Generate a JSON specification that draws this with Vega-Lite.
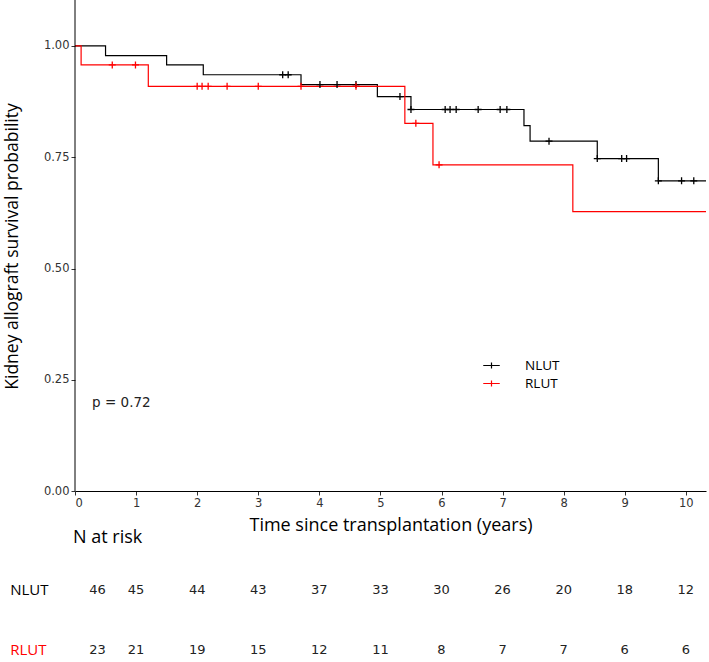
{
  "$schema": "https://vega.github.io/schema/vega-lite/v6.json",
  "width": 631,
  "height": 662,
  "autosize": {"type": "none"},
  "padding": {"left": 75, "top": 0, "right": 3, "bottom": 0},
  "background": "white",
  "config": {"view": {"stroke": null}, "font": "Open Sans"},
  "datasets": {
    "curve": [
      {"group": "NLUT", "time": 0, "surv": 1.0},
      {"group": "NLUT", "time": 0.5, "surv": 0.978},
      {"group": "NLUT", "time": 1.5, "surv": 0.957},
      {"group": "NLUT", "time": 2.1, "surv": 0.935},
      {"group": "NLUT", "time": 3.7, "surv": 0.913},
      {"group": "NLUT", "time": 4.95, "surv": 0.886},
      {"group": "NLUT", "time": 5.5, "surv": 0.857},
      {"group": "NLUT", "time": 7.35, "surv": 0.821},
      {"group": "NLUT", "time": 7.45, "surv": 0.786},
      {"group": "NLUT", "time": 8.55, "surv": 0.747},
      {"group": "NLUT", "time": 9.55, "surv": 0.697},
      {"group": "NLUT", "time": 10.33, "surv": 0.697},
      {"group": "RLUT", "time": 0, "surv": 1.0},
      {"group": "RLUT", "time": 0.1, "surv": 0.957},
      {"group": "RLUT", "time": 1.2, "surv": 0.909},
      {"group": "RLUT", "time": 5.4, "surv": 0.826},
      {"group": "RLUT", "time": 5.86, "surv": 0.733},
      {"group": "RLUT", "time": 8.15, "surv": 0.628},
      {"group": "RLUT", "time": 10.33, "surv": 0.628}
    ],
    "censor": [
      {"group": "NLUT", "time": 3.4, "surv": 0.935},
      {"group": "NLUT", "time": 3.49, "surv": 0.935},
      {"group": "NLUT", "time": 4.01, "surv": 0.913},
      {"group": "NLUT", "time": 4.29, "surv": 0.913},
      {"group": "NLUT", "time": 4.6, "surv": 0.913},
      {"group": "NLUT", "time": 5.32, "surv": 0.886},
      {"group": "NLUT", "time": 5.5, "surv": 0.857},
      {"group": "NLUT", "time": 6.06, "surv": 0.857},
      {"group": "NLUT", "time": 6.14, "surv": 0.857},
      {"group": "NLUT", "time": 6.24, "surv": 0.857},
      {"group": "NLUT", "time": 6.6, "surv": 0.857},
      {"group": "NLUT", "time": 6.96, "surv": 0.857},
      {"group": "NLUT", "time": 7.07, "surv": 0.857},
      {"group": "NLUT", "time": 7.76, "surv": 0.786},
      {"group": "NLUT", "time": 8.55, "surv": 0.747},
      {"group": "NLUT", "time": 8.95, "surv": 0.747},
      {"group": "NLUT", "time": 9.03, "surv": 0.747},
      {"group": "NLUT", "time": 9.55, "surv": 0.697},
      {"group": "NLUT", "time": 9.93, "surv": 0.697},
      {"group": "NLUT", "time": 10.13, "surv": 0.697},
      {"group": "RLUT", "time": 0.61, "surv": 0.957},
      {"group": "RLUT", "time": 0.99, "surv": 0.957},
      {"group": "RLUT", "time": 2.0, "surv": 0.909},
      {"group": "RLUT", "time": 2.08, "surv": 0.909},
      {"group": "RLUT", "time": 2.18, "surv": 0.909},
      {"group": "RLUT", "time": 2.49, "surv": 0.909},
      {"group": "RLUT", "time": 3.0, "surv": 0.909},
      {"group": "RLUT", "time": 3.7, "surv": 0.909},
      {"group": "RLUT", "time": 4.6, "surv": 0.909},
      {"group": "RLUT", "time": 5.58, "surv": 0.826},
      {"group": "RLUT", "time": 5.96, "surv": 0.733}
    ],
    "risk": [
      {"group": "NLUT", "time": 0.37, "n": 46},
      {"group": "NLUT", "time": 1, "n": 45},
      {"group": "NLUT", "time": 2, "n": 44},
      {"group": "NLUT", "time": 3, "n": 43},
      {"group": "NLUT", "time": 4, "n": 37},
      {"group": "NLUT", "time": 5, "n": 33},
      {"group": "NLUT", "time": 6, "n": 30},
      {"group": "NLUT", "time": 7, "n": 26},
      {"group": "NLUT", "time": 8, "n": 20},
      {"group": "NLUT", "time": 9, "n": 18},
      {"group": "NLUT", "time": 10, "n": 12},
      {"group": "RLUT", "time": 0.37, "n": 23},
      {"group": "RLUT", "time": 1, "n": 21},
      {"group": "RLUT", "time": 2, "n": 19},
      {"group": "RLUT", "time": 3, "n": 15},
      {"group": "RLUT", "time": 4, "n": 12},
      {"group": "RLUT", "time": 5, "n": 11},
      {"group": "RLUT", "time": 6, "n": 8},
      {"group": "RLUT", "time": 7, "n": 7},
      {"group": "RLUT", "time": 8, "n": 7},
      {"group": "RLUT", "time": 9, "n": 6},
      {"group": "RLUT", "time": 10, "n": 6}
    ],
    "single": [{}]
  },
  "layer": [
    {
      "data": {"name": "curve"},
      "mark": {"type": "line", "interpolate": "step-after", "strokeWidth": 1.2},
      "encoding": {
        "x": {
          "field": "time", "type": "quantitative",
          "scale": {"domain": [0, 10.33], "nice": false, "zero": false},
          "axis": {
            "title": "Time since transplantation (years)",
            "values": [0, 1, 2, 3, 4, 5, 6, 7, 8, 9, 10],
            "format": "d",
            "offset": -171,
            "grid": false,
            "domainColor": "#000000", "domainWidth": 1,
            "tickColor": "#333333", "tickSize": 4,
            "labelFont": "DejaVu Sans", "labelFontSize": 11.5, "labelColor": "#333333", "labelPadding": 2,
            "titleFont": "Open Sans", "titleFontSize": 18, "titleFontWeight": "normal", "titleColor": "#000000", "titlePadding": 8
          }
        },
        "y": {
          "field": "surv", "type": "quantitative",
          "scale": {"domain": [-0.3829, 1.1028], "nice": false, "zero": false},
          "axis": {
            "title": "Kidney allograft survival probability",
            "values": [0, 0.25, 0.5, 0.75, 1],
            "format": ".2f",
            "grid": false, "domain": false,
            "tickColor": "#333333", "tickSize": 4,
            "labelFont": "DejaVu Sans", "labelFontSize": 11.5, "labelColor": "#333333", "labelPadding": 2,
            "titleFont": "Open Sans", "titleFontSize": 17.5, "titleFontWeight": "normal", "titleColor": "#000000",
            "titleX": -63, "titleY": 246, "titleAngle": -90, "titleAlign": "center", "titleBaseline": "middle"
          }
        },
        "color": {
          "field": "group", "type": "nominal",
          "scale": {"domain": ["NLUT", "RLUT"], "range": ["#000000", "#ff0000"]},
          "legend": {
            "title": null, "orient": "none", "legendX": 408, "legendY": 357,
            "padding": 0, "rowPadding": 3,
            "symbolType": "M-1.1,0H1.1M0,-0.4V0.4", "symbolSize": 225, "symbolStrokeWidth": 1.2,
            "labelFont": "Open Sans", "labelFontSize": 13.5, "labelColor": "#000000", "labelOffset": 25
          }
        }
      }
    },
    {
      "data": {"name": "censor"},
      "mark": {"type": "point", "shape": "M-1,0H1M0,-1V1", "filled": false, "strokeWidth": 1.3, "size": 49, "opacity": 1},
      "encoding": {
        "x": {"field": "time", "type": "quantitative", "title": "Time since transplantation (years)"},
        "y": {"field": "surv", "type": "quantitative", "title": "Kidney allograft survival probability"},
        "color": {"field": "group", "type": "nominal", "legend": null}
      }
    },
    {
      "data": {"name": "single"},
      "mark": {"type": "rule", "color": "#000000", "strokeWidth": 1},
      "encoding": {
        "x": {"datum": 0},
        "y": {"datum": 0},
        "y2": {"datum": 1.1028}
      }
    },
    {
      "data": {"name": "single"},
      "mark": {"type": "text", "text": "p = 0.72", "align": "left", "baseline": "middle", "font": "DejaVu Sans", "fontSize": 13.5, "color": "#222222"},
      "encoding": {
        "x": {"datum": 0.28},
        "y": {"datum": 0.198}
      }
    },
    {
      "data": {"name": "single"},
      "mark": {"type": "text", "text": "N at risk", "align": "left", "baseline": "middle", "font": "Open Sans", "fontSize": 18, "color": "#000000", "dx": -2},
      "encoding": {
        "x": {"datum": 0},
        "y": {"datum": -0.105}
      }
    },
    {
      "data": {"name": "single"},
      "mark": {"type": "text", "text": "NLUT", "align": "left", "baseline": "middle", "font": "Open Sans", "fontSize": 15, "color": "#000000"},
      "encoding": {
        "x": {"datum": -1.06},
        "y": {"datum": -0.221}
      }
    },
    {
      "data": {"name": "single"},
      "mark": {"type": "text", "text": "RLUT", "align": "left", "baseline": "middle", "font": "Open Sans", "fontSize": 15, "color": "#ff0000"},
      "encoding": {
        "x": {"datum": -1.06},
        "y": {"datum": -0.356}
      }
    },
    {
      "data": {"name": "risk"},
      "transform": [{"filter": "datum.group == 'NLUT'"}],
      "mark": {"type": "text", "align": "center", "baseline": "middle", "font": "DejaVu Sans", "fontSize": 13, "color": "#222222"},
      "encoding": {
        "x": {"field": "time", "type": "quantitative", "title": "Time since transplantation (years)"},
        "y": {"datum": -0.221},
        "text": {"field": "n", "type": "quantitative"}
      }
    },
    {
      "data": {"name": "risk"},
      "transform": [{"filter": "datum.group == 'RLUT'"}],
      "mark": {"type": "text", "align": "center", "baseline": "middle", "font": "DejaVu Sans", "fontSize": 13, "color": "#222222"},
      "encoding": {
        "x": {"field": "time", "type": "quantitative", "title": "Time since transplantation (years)"},
        "y": {"datum": -0.356},
        "text": {"field": "n", "type": "quantitative"}
      }
    }
  ]
}
